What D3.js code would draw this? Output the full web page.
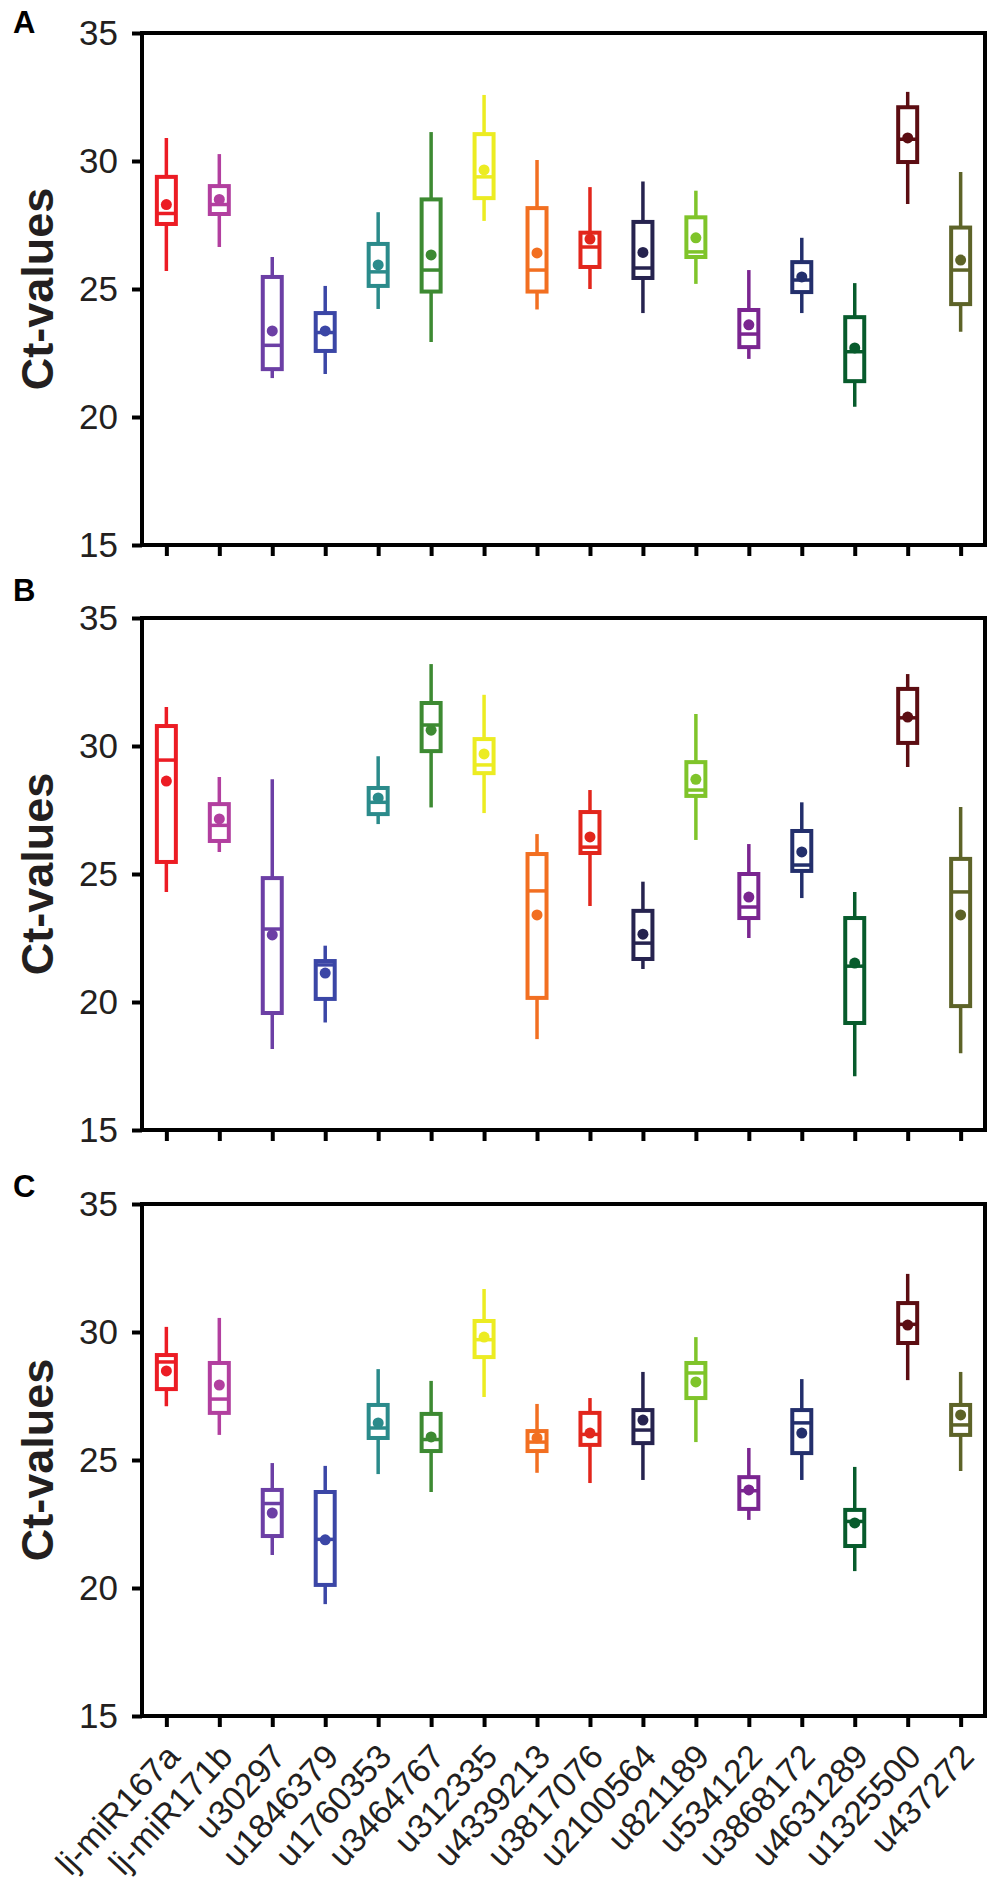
<!DOCTYPE html>
<html>
<head>
<meta charset="utf-8">
<script src="https://cdn.jsdelivr.net/npm/d3@7"></script>
<style>
  body { margin: 0; background: #fff; }
  svg { display: block; }
  .axis text { font-family: "Liberation Sans", Arial, sans-serif; fill: #231f20; }
</style>
</head>
<body>
<div id="chart"></div>
<script>
// miRNA names along the x axis
const genes = ["lj-miR167a", "lj-miR171b", "u30297", "u1846379", "u1760353", "u3464767",
    "u312335", "u4339213", "u3817076", "u2100564", "u821189", "u534122",
    "u3868172", "u4631289", "u1325500", "u437272"];

const colors = ["#ec1c24", "#b23f9f", "#6c3fa5", "#3b46a6", "#2b8b8b", "#3d8a32",
    "#ecec22", "#f26f21", "#e2261c", "#26234f", "#7fc42a", "#7a2590",
    "#232f6c", "#075b2c", "#5c0d12", "#5d6328"];

const yTicks = [15, 20, 25, 30, 35];
const panelLabels = ["A", "B", "C"];

// each row: [whisker low, Q1, median, Q3, whisker high, mean]
const panelA = [
    [25.7, 27.54, 27.95, 29.38, 30.9, 28.3],
    [26.64, 27.93, 28.3, 29.02, 30.27, 28.5],
    [21.52, 21.87, 22.8, 25.47, 26.25, 23.36],
    [21.68, 22.58, 23.3, 24.06, 25.12, 23.36],
    [24.22, 25.12, 25.67, 26.76, 28.0, 25.94],
    [22.93, 24.9, 25.74, 28.5, 31.13, 26.33],
    [27.66, 28.55, 29.38, 31.05, 32.58, 29.65],
    [24.2, 24.9, 25.74, 28.16, 30.04, 26.41],
    [25.0, 25.86, 26.64, 27.2, 28.98, 26.95],
    [24.06, 25.43, 25.82, 27.62, 29.2, 26.43],
    [25.2, 26.25, 26.45, 27.8, 28.84, 27.0],
    [22.27, 22.73, 23.24, 24.18, 25.74, 23.6],
    [24.06, 24.88, 25.35, 26.05, 27.0, 25.47],
    [20.4, 21.4, 22.55, 23.9, 25.23, 22.7],
    [28.32, 29.96, 30.85, 32.1, 32.7, 30.9],
    [23.33, 24.41, 25.74, 27.4, 29.57, 26.13]
];

const panelB = [
    [24.3, 25.47, 29.45, 30.78, 31.52, 28.63],
    [25.86, 26.29, 26.9, 27.73, 28.79, 27.15],
    [18.16, 19.57, 22.85, 24.84, 28.7, 22.62],
    [19.2, 20.12, 21.45, 21.6, 22.2, 21.13],
    [26.95, 27.34, 27.8, 28.36, 29.6, 27.97],
    [27.6, 29.8, 30.82, 31.68, 33.2, 30.62],
    [27.38, 28.94, 29.26, 30.27, 32.0, 29.69],
    [18.55, 20.16, 24.34, 25.78, 26.56, 23.4],
    [23.75, 25.82, 26.05, 27.42, 28.28, 26.45],
    [21.29, 21.68, 22.3, 23.56, 24.7, 22.65],
    [26.33, 28.05, 28.28, 29.37, 31.25, 28.7],
    [22.5, 23.28, 23.71, 25.0, 26.17, 24.1],
    [24.06, 25.12, 25.35, 26.68, 27.8, 25.86],
    [17.1, 19.18, 21.4, 23.28, 24.3, 21.52],
    [29.18, 30.12, 31.1, 32.23, 32.81, 31.13],
    [18.0, 19.84, 24.3, 25.59, 27.62, 23.4]
];

const panelC = [
    [27.1, 27.77, 28.83, 29.1, 30.2, 28.48],
    [25.98, 26.84, 27.38, 28.79, 30.55, 27.93],
    [21.29, 22.03, 23.3, 23.83, 24.88, 22.93],
    [19.37, 20.12, 21.9, 23.75, 24.77, 21.88],
    [24.45, 25.86, 26.25, 27.15, 28.55, 26.45],
    [23.75, 25.35, 25.8, 26.8, 28.09, 25.9],
    [27.46, 29.02, 29.7, 30.43, 31.68, 29.8],
    [24.5, 25.35, 25.7, 26.13, 27.19, 25.86],
    [24.1, 25.59, 26.0, 26.84, 27.42, 26.05],
    [24.22, 25.66, 26.17, 26.95, 28.44, 26.56],
    [25.7, 27.42, 28.4, 28.79, 29.8, 28.05],
    [22.66, 23.09, 23.8, 24.33, 25.47, 23.83],
    [24.22, 25.27, 26.45, 26.95, 28.16, 26.05],
    [20.66, 21.64, 22.6, 23.05, 24.73, 22.54],
    [28.12, 29.57, 30.3, 31.13, 32.27, 30.27],
    [24.57, 25.98, 26.37, 27.15, 28.44, 26.76]
];

const panels = [panelA, panelB, panelC];

const width = 1000, height = 1891;
const left = 142, right = 985;
const panelTops = [33, 618, 1204];
const letterY = [33, 601, 1197];
const panelH = 512;
const boxW = 19;

const svg = d3.select("#chart").append("svg")
    .attr("width", width)
    .attr("height", height);

const x = d3.scalePoint()
    .domain(genes)
    .range([left, right])
    .padding(0.46);

panels.forEach((rows, p) => {
    const top = panelTops[p];
    const y = d3.scaleLinear()
        .domain([15, 35])
        .range([top + panelH, top]);

    const g = svg.append("g");

    // whiskers
    g.selectAll(".whisker")
        .data(rows)
        .join("line")
        .attr("x1", (d, i) => x(genes[i]))
        .attr("x2", (d, i) => x(genes[i]))
        .attr("y1", d => y(d[0]))
        .attr("y2", d => y(d[4]))
        .attr("stroke", (d, i) => colors[i])
        .attr("stroke-width", 3.5);

    // boxes
    g.selectAll(".box")
        .data(rows)
        .join("rect")
        .attr("x", (d, i) => x(genes[i]) - boxW / 2)
        .attr("width", boxW)
        .attr("y", d => y(d[3]))
        .attr("height", d => y(d[1]) - y(d[3]))
        .attr("fill", "#fff")
        .attr("stroke", (d, i) => colors[i])
        .attr("stroke-width", 4);

    // medians
    g.selectAll(".median")
        .data(rows)
        .join("line")
        .attr("x1", (d, i) => x(genes[i]) - boxW / 2)
        .attr("x2", (d, i) => x(genes[i]) + boxW / 2)
        .attr("y1", d => y(d[2]))
        .attr("y2", d => y(d[2]))
        .attr("stroke", (d, i) => colors[i])
        .attr("stroke-width", 3.5);

    // means
    g.selectAll(".mean")
        .data(rows)
        .join("circle")
        .attr("cx", (d, i) => x(genes[i]))
        .attr("cy", d => y(d[5]))
        .attr("r", 5.5)
        .attr("fill", (d, i) => colors[i]);

    // frame
    svg.append("rect")
        .attr("x", left)
        .attr("y", top)
        .attr("width", right - left)
        .attr("height", panelH)
        .attr("fill", "none")
        .attr("stroke", "#000")
        .attr("stroke-width", 4);

    const yAxis = svg.append("g")
        .attr("class", "axis")
        .attr("transform", `translate(${left},0)`)
        .call(d3.axisLeft(y).tickValues(yTicks).tickSize(10).tickPadding(14));
    yAxis.select(".domain").remove();
    yAxis.selectAll("line").attr("stroke", "#000").attr("stroke-width", 4);
    yAxis.selectAll("text").style("font-size", "35px");

    const xAxis = svg.append("g")
        .attr("class", "axis")
        .attr("transform", `translate(0,${top + panelH})`)
        .call(d3.axisBottom(x).tickSize(11));
    xAxis.select(".domain").remove();
    xAxis.selectAll("line").attr("stroke", "#000").attr("stroke-width", 4);
    if (p === 2) {
        xAxis.selectAll("text")
            .attr("x", 0)
            .attr("y", 0)
            .attr("dy", "0.35em")
            .attr("transform", "translate(6,34) rotate(-47)")
            .style("text-anchor", "end")
            .style("font-size", "34px");
    } else {
        xAxis.selectAll("text").remove();
    }

    // y title
    svg.append("text")
        .attr("transform", `translate(53,${top + panelH / 2}) rotate(-90)`)
        .attr("text-anchor", "middle")
        .style("font-family", "'Liberation Sans', Arial, sans-serif")
        .style("font-weight", "bold")
        .style("font-size", "45px")
        .attr("fill", "#231f20")
        .text("Ct-values");

    // panel letter
    svg.append("text")
        .attr("x", 13)
        .attr("y", letterY[p])
        .style("font-family", "'Liberation Sans', Arial, sans-serif")
        .style("font-weight", "bold")
        .style("font-size", "31px")
        .attr("fill", "#000")
        .text(panelLabels[p]);
});
</script>
</body>
</html>
